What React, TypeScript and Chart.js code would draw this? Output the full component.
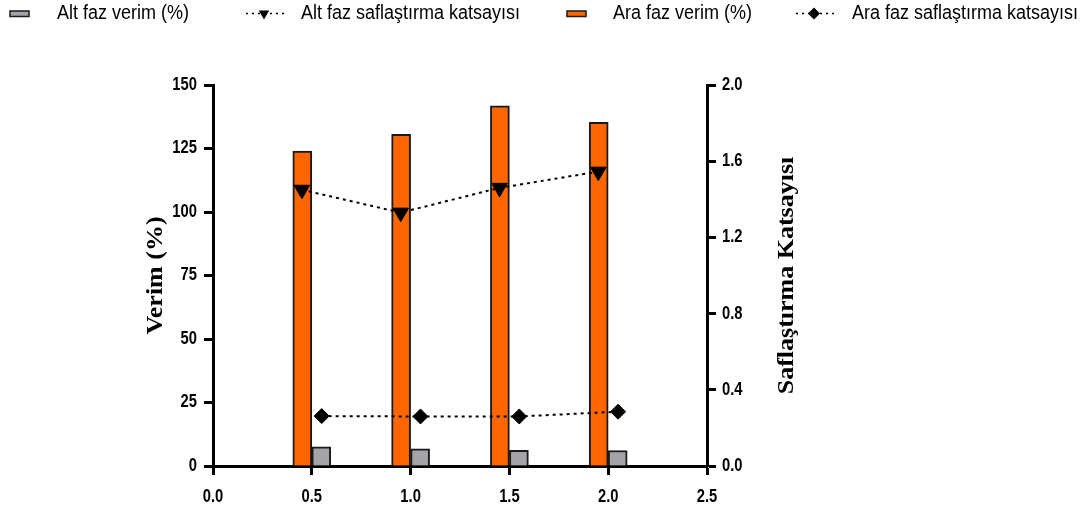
import React, { useEffect, useRef } from 'react';
import { Chart, registerables } from 'chart.js';

Chart.register(...registerables);

// ---------- data ----------
const xCategories = [0.5, 1.0, 1.5, 2.0];
const altFazVerim = [7.5, 6.8, 6.2, 6.1];
const araFazVerim = [124.0, 130.6, 141.8, 135.3];
const altFazSaflastirma = [1.45, 1.33, 1.46, 1.545];
const araFazSaflastirma = [0.262, 0.26, 0.26, 0.285];

const xTicks = [0, 0.5, 1.0, 1.5, 2.0, 2.5];
const leftTicks = [0, 25, 50, 75, 100, 125, 150];
const rightTicks = [0, 0.4, 0.8, 1.2, 1.6, 2.0];

const legendLabels = [
  'Alt faz verim (%)',
  'Alt faz saflaştırma katsayısı',
  'Ara faz verim (%)',
  'Ara faz saflaştırma katsayısı',
];
const leftTitle = 'Verim (%)';
const rightTitle = 'Saflaştırma Katsayısı';

// ---------- style ----------
const GRAY = '#A3A3A8';
const ORANGE = '#FF6600';
const EDGE = '#1A1A1A';
const SANS = "'Liberation Sans', Arial, sans-serif";
const SERIF = "'Liberation Serif', 'Times New Roman', serif";
const POINT_SHIFT = 0.05; // markers sit over the centre of each bar of the pair
const NARROW = 0.82; // the reference type is horizontally condensed

function drawMarker(ctx: CanvasRenderingContext2D, kind: string, x: number, y: number, r: number) {
  ctx.beginPath();
  if (kind === 'triangle') {
    ctx.moveTo(x - r * 0.87, y - r * 0.5);
    ctx.lineTo(x + r * 0.87, y - r * 0.5);
    ctx.lineTo(x, y + r);
  } else {
    ctx.moveTo(x, y - r);
    ctx.lineTo(x + r, y);
    ctx.lineTo(x, y + r);
    ctx.lineTo(x - r, y);
  }
  ctx.closePath();
  ctx.fillStyle = '#000';
  ctx.fill();
}

function narrowText(
  ctx: CanvasRenderingContext2D, text: string, x: number, y: number,
  align: CanvasTextAlign, sx: number,
) {
  ctx.save();
  ctx.translate(x, y);
  ctx.scale(sx, 1);
  ctx.textAlign = align;
  ctx.fillText(text, 0, 0);
  ctx.restore();
}

const decorPlugin = {
  id: 'decor',
  afterDraw(chart: any) {
    const ctx: CanvasRenderingContext2D = chart.ctx;
    const area = chart.chartArea;
    const sx = chart.scales.x;
    const sy = chart.scales.y;
    const sy1 = chart.scales.y1;
    ctx.save();

    // ----- tick labels -----
    ctx.fillStyle = '#000';
    ctx.font = `bold 18px ${SANS}`;
    ctx.textBaseline = 'middle';
    xTicks.forEach((v) => {
      narrowText(ctx, v.toFixed(1), sx.getPixelForValue(v), area.bottom + 31, 'center', NARROW);
    });
    leftTicks.forEach((v) => {
      narrowText(ctx, String(v), area.left - 16, sy.getPixelForValue(v), 'right', NARROW);
    });
    rightTicks.forEach((v) => {
      narrowText(ctx, v.toFixed(1), area.right + 15, sy1.getPixelForValue(v), 'left', NARROW);
    });

    // ----- legend -----
    const ly = 13.5;
    const items = [
      { kind: 'box', color: GRAY, mx: 10, tx: 57 },
      { kind: 'triangle', color: '#000', mx: 246, tx: 301 },
      { kind: 'box', color: ORANGE, mx: 567, tx: 613 },
      { kind: 'diamond', color: '#000', mx: 796, tx: 852 },
    ];
    items.forEach((it, i) => {
      if (it.kind === 'box') {
        ctx.fillStyle = it.color;
        ctx.fillRect(it.mx, ly - 2.5, 19, 5.5);
        ctx.lineWidth = 1.5;
        ctx.strokeStyle = EDGE;
        ctx.strokeRect(it.mx, ly - 2.5, 19, 5.5);
      } else {
        ctx.save();
        ctx.setLineDash([2, 4]);
        ctx.lineWidth = 1.5;
        ctx.strokeStyle = '#000';
        ctx.beginPath();
        ctx.moveTo(it.mx, ly);
        ctx.lineTo(it.mx + 38, ly);
        ctx.stroke();
        ctx.restore();
        drawMarker(ctx, it.kind, it.mx + 18, ly, 6);
      }
      ctx.fillStyle = '#000';
      ctx.font = `20px ${SANS}`;
      ctx.textBaseline = 'middle';
      narrowText(ctx, legendLabels[i], it.tx, ly, 'left', 0.9);
    });

    // ----- axis titles -----
    const cy = (area.top + area.bottom) / 2;
    ctx.fillStyle = '#000';
    ctx.textAlign = 'center';
    ctx.textBaseline = 'middle';
    ctx.font = `bold 26px ${SERIF}`;

    ctx.save();
    ctx.translate(area.left - 57, cy);
    ctx.rotate(-Math.PI / 2);
    ctx.scale(1, 0.88);
    ctx.fillText(leftTitle, 0, 0);
    ctx.restore();

    ctx.save();
    ctx.translate(area.right + 80, cy);
    ctx.rotate(-Math.PI / 2);
    ctx.scale(1, 0.88);
    ctx.fillText(rightTitle, 0, 0);
    ctx.restore();

    ctx.restore();
  },
};

const axisCommon = {
  grid: {
    offset: false,
    drawOnChartArea: false,
    drawTicks: true,
    tickLength: 9,
    tickWidth: 3,
    tickColor: '#000',
  },
  border: { display: true, color: '#000', width: 3 },
};

export default function App() {
  const ref = useRef<HTMLCanvasElement | null>(null);

  useEffect(() => {
    document.body.style.margin = '0';
    const canvas = ref.current;
    if (!canvas) return;

    const chart = new Chart(canvas, {
      type: 'bar',
      data: {
        datasets: [
          {
            type: 'line',
            label: legendLabels[1],
            data: xCategories.map((x, i) => ({ x: x - POINT_SHIFT, y: altFazSaflastirma[i] })),
            yAxisID: 'y1',
            borderColor: '#000',
            borderWidth: 2,
            borderDash: [3, 4],
            pointStyle: 'triangle',
            rotation: 180,
            pointRadius: 9,
            pointBackgroundColor: '#000',
            pointBorderColor: '#000',
            pointBorderWidth: 1,
            order: 1,
          } as any,
          {
            type: 'line',
            label: legendLabels[3],
            data: xCategories.map((x, i) => ({ x: x + POINT_SHIFT, y: araFazSaflastirma[i] })),
            yAxisID: 'y1',
            borderColor: '#000',
            borderWidth: 2,
            borderDash: [3, 4],
            pointStyle: 'rectRot',
            pointRadius: 7.5,
            pointBackgroundColor: '#000',
            pointBorderColor: '#000',
            pointBorderWidth: 1,
            order: 1,
          } as any,
          {
            type: 'bar',
            label: legendLabels[2],
            data: xCategories.map((x, i) => ({ x, y: araFazVerim[i] })),
            yAxisID: 'y',
            backgroundColor: ORANGE,
            borderColor: EDGE,
            borderWidth: 2,
            barThickness: 19,
            order: 2,
          } as any,
          {
            type: 'bar',
            label: legendLabels[0],
            data: xCategories.map((x, i) => ({ x, y: altFazVerim[i] })),
            yAxisID: 'y',
            backgroundColor: GRAY,
            borderColor: EDGE,
            borderWidth: 2,
            barThickness: 19,
            order: 2,
          } as any,
        ],
      },
      options: {
        responsive: false,
        maintainAspectRatio: false,
        animation: false,
        layout: { padding: { top: 85, left: 0, right: 0, bottom: 0 } },
        plugins: {
          legend: { display: false },
          tooltip: { enabled: false },
          title: { display: false },
        },
        scales: {
          x: {
            type: 'linear',
            min: 0,
            max: 2.5,
            offset: false,
            ...axisCommon,
            afterBuildTicks: (s: any) => { s.ticks = xTicks.map((v) => ({ value: v })); },
            afterFit: (s: any) => { s.height = 49; },
            ticks: { display: false },
          },
          y: {
            type: 'linear',
            position: 'left',
            min: 0,
            max: 150,
            ...axisCommon,
            afterBuildTicks: (s: any) => { s.ticks = leftTicks.map((v) => ({ value: v })); },
            afterFit: (s: any) => { s.width = 213; },
            ticks: { display: false },
          },
          y1: {
            type: 'linear',
            position: 'right',
            min: 0,
            max: 2,
            ...axisCommon,
            afterBuildTicks: (s: any) => { s.ticks = rightTicks.map((v) => ({ value: v })); },
            afterFit: (s: any) => { s.width = 379; },
            ticks: { display: false },
          },
        },
      } as any,
      plugins: [decorPlugin],
    });

    return () => chart.destroy();
  }, []);

  return (
    <div style={{ width: 1086, height: 515, background: '#fff' }}>
      <canvas ref={ref} width={1086} height={515} style={{ display: 'block', width: 1086, height: 515 }} />
    </div>
  );
}
